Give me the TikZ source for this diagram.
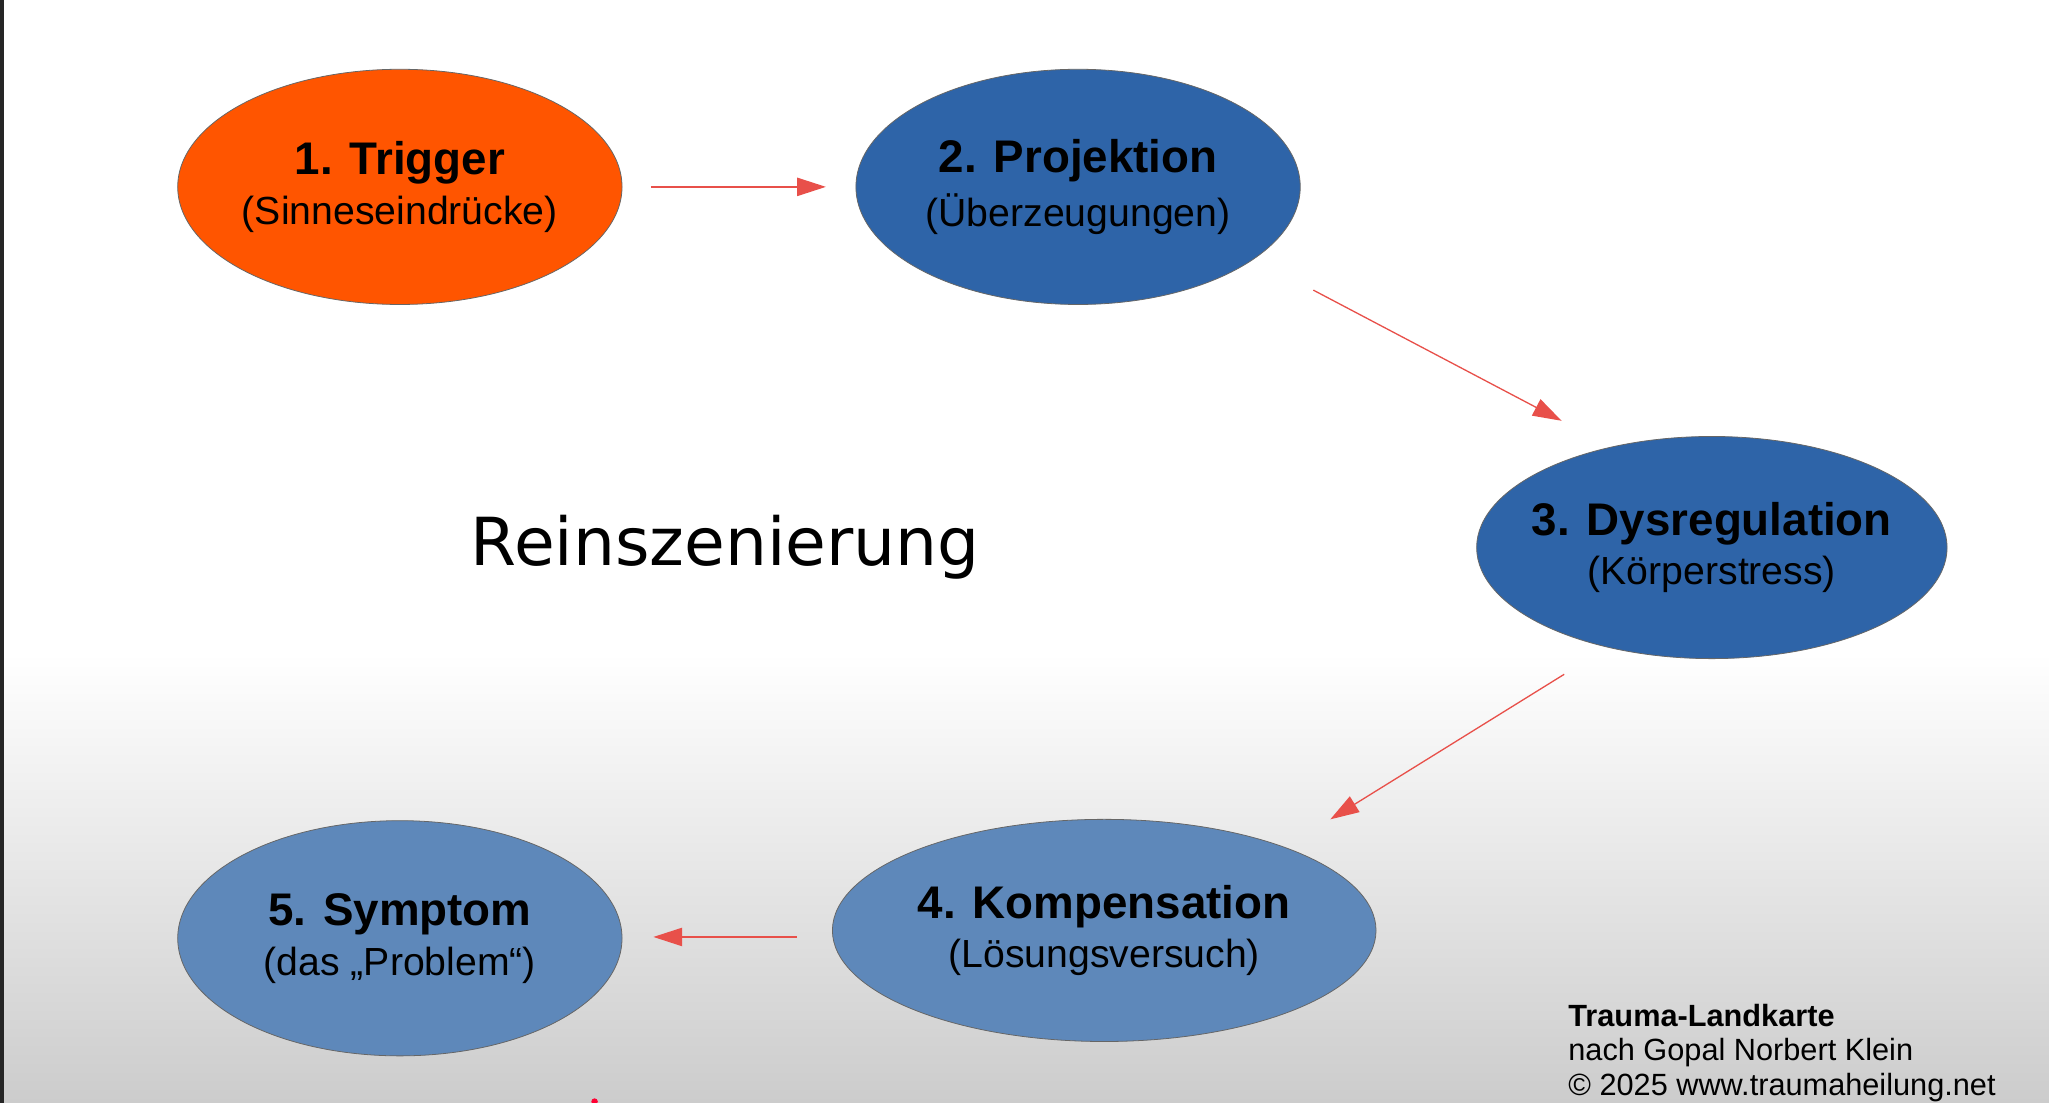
\documentclass[tikz,border=0pt]{standalone}
\usepackage{fontspec}
\setmainfont{Liberation Sans}
\newfontfamily\djv{DejaVu Sans}
\usetikzlibrary{shapes.geometric,arrows.meta}
\definecolor{topblue}{HTML}{2E64A8}
\definecolor{lowblue}{HTML}{5E88BA}
\definecolor{orng}{HTML}{FF5500}
\definecolor{arr}{HTML}{E8504A}
\tikzset{
  ell/.style={ellipse,draw=black!60,line width=0.6pt,inner sep=0pt},
  lbl/.style={align=center,inner sep=0pt},
  conn/.style={draw=arr,line width=1pt,-{Triangle[length=22pt,width=14pt]}},
}
\newcommand{\hdt}[1]{{\fontsize{35}{40}\selectfont\bfseries #1}}
\newcommand{\subt}[1]{{\fontsize{30}{36}\selectfont #1}}
\begin{document}
\begin{tikzpicture}[x=1pt,y=-1pt]
\useasboundingbox (0,0) rectangle (1568,844);
\fill[white] (0,0) rectangle (1568,844);
\shade[top color=white,bottom color=black!20] (0,500) rectangle (1568,844);
\fill[black!85] (0,0) rectangle (3,844);
\node[ell,fill=orng,minimum width=340pt,minimum height=180pt] (n1) at (306,143) {};
\node[ell,fill=topblue,minimum width=340pt,minimum height=180pt] (n2) at (825,143) {};
\node[ell,fill=topblue,minimum width=360pt,minimum height=170pt] (n3) at (1310,419) {};
\node[ell,fill=lowblue,minimum width=416pt,minimum height=170pt] (n4) at (845,712) {};
\node[ell,fill=lowblue,minimum width=340pt,minimum height=180pt] (n5) at (306,718) {};
\node[lbl] (t1) at (n1.center) {\hdt{1. Trigger}\\[8pt]\subt{(Sinneseindrücke)}};
\node[lbl] (t2) at (n2.center) {\hdt{2. Projektion}\\[8pt]\subt{(Überzeugungen)}};
\node[lbl] (t3) at (n3.center) {\hdt{3. Dysregulation}\\[8pt]\subt{(Körperstress)}};
\node[lbl] (t4) at (n4.center) {\hdt{4. Kompensation}\\[8pt]\subt{(Lösungsversuch)}};
\node[lbl] (t5) at (n5.center) {\hdt{5. Symptom}\\[8pt]\subt{(das „Problem“)}};
\coordinate (a1s) at (498,143); \coordinate (a1e) at (632,143);
\coordinate (a2s) at (1005,222); \coordinate (a2e) at (1195,322);
\coordinate (a3s) at (1197,516); \coordinate (a3e) at (1018,627);
\coordinate (a4s) at (610,717); \coordinate (a4e) at (500,717);
\draw[conn] (a1s) -- (a1e);
\draw[conn] (a2s) -- (a2e);
\draw[conn] (a3s) -- (a3e);
\draw[conn] (a4s) -- (a4e);
\node[font=\djv\fontsize{50.7}{58}\selectfont] (rt) at (555,419) {Reinszenierung};
\node[anchor=north west,align=left,inner sep=0pt,font=\fontsize{23.5}{26.5}\selectfont] (ft) at (1200,768) {\textbf{Trauma-Landkarte}\\nach Gopal Norbert Klein\\© 2025 www.traumaheilung.net};
\fill[red!80!magenta] (455,843) circle (2.5pt);
\end{tikzpicture}
\end{document}
